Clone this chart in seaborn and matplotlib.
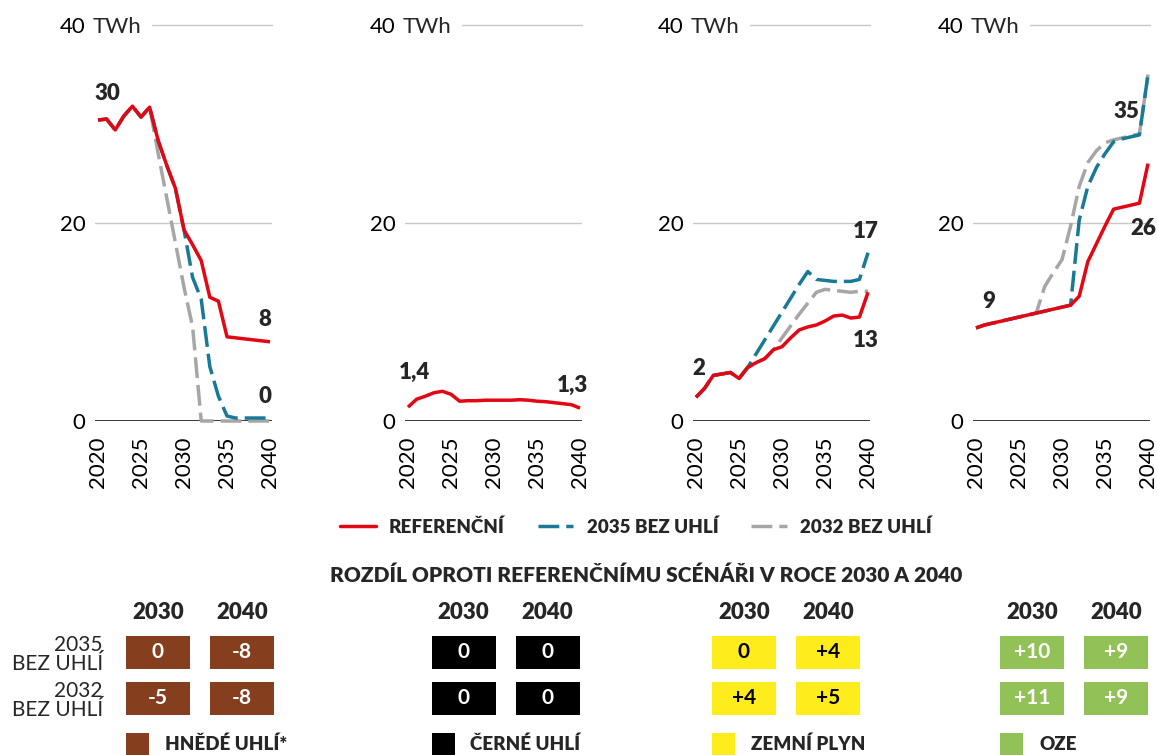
import matplotlib
matplotlib.use("Agg")
import matplotlib.pyplot as plt
from matplotlib.lines import Line2D
from matplotlib.patches import Rectangle
import seaborn as sns
import pandas as pd

# ---------------------------------------------------------------------------
# Data (TWh), yearly 2020-2040
# ---------------------------------------------------------------------------
years = list(range(2020, 2041))

# Lignite (hnědé uhlí)
lignite_ref = [30.4, 30.5, 29.4, 30.8, 31.8, 30.7, 31.7, 28.3, 25.8, 23.5, 19.3,
               17.8, 16.2, 12.5, 12.1, 8.5, 8.4, 8.3, 8.2, 8.1, 8.0]
lignite_2035 = [30.4, 30.5, 29.4, 30.8, 31.8, 30.7, 31.7, 28.3, 25.8, 23.5, 19.3,
                14.5, 12.3, 5.5, 2.5, 0.5, 0.3, 0.3, 0.3, 0.3, 0.3]
lignite_2032 = [30.4, 30.5, 29.4, 30.8, 31.8, 30.7, 31.7, 27.0, 22.5, 18.0, 13.5,
                9.5, 0.0, 0.0, 0.0, 0.0, 0.0, 0.0, 0.0, 0.0, 0.0]

# Hard coal (černé uhlí)
hard_coal_ref = [1.4, 2.2, 2.5, 2.85, 3.0, 2.7, 2.0, 2.05, 2.05, 2.1, 2.1,
                 2.1, 2.1, 2.15, 2.1, 2.0, 1.95, 1.85, 1.75, 1.65, 1.3]

# Natural gas (zemní plyn)
gas_ref = [2.4, 3.3, 4.6, 4.75, 4.9, 4.3, 5.4, 5.9, 6.3, 7.2, 7.5,
           8.4, 9.2, 9.5, 9.7, 10.1, 10.6, 10.7, 10.4, 10.5, 13.0]
gas_2035 = [2.4, 3.3, 4.6, 4.75, 4.9, 4.3, 5.4, 6.8, 8.2, 9.6, 11.0,
            12.4, 13.8, 15.1, 14.3, 14.2, 14.1, 14.1, 14.1, 14.3, 17.0]
gas_2032 = [2.4, 3.3, 4.6, 4.75, 4.9, 4.3, 5.4, 5.9, 6.3, 7.2, 8.4,
            9.6, 10.8, 11.9, 13.0, 13.3, 13.2, 13.1, 13.0, 13.1, 13.1]

# Renewables (OZE)
res_ref = [9.4, 9.7, 9.9, 10.1, 10.3, 10.5, 10.7, 10.9, 11.1, 11.3, 11.5,
           11.7, 12.6, 16.1, 17.9, 19.7, 21.4, 21.6, 21.8, 22.0, 26.0]
res_2035 = [9.4, 9.7, 9.9, 10.1, 10.3, 10.5, 10.7, 10.9, 11.1, 11.3, 11.5,
            11.7, 20.3, 23.7, 25.6, 27.0, 28.2, 28.5, 28.7, 28.9, 35.0]
res_2032 = [9.4, 9.7, 9.9, 10.1, 10.3, 10.5, 10.7, 10.9, 13.6, 15.0, 16.3,
            19.7, 23.7, 26.1, 27.3, 28.1, 28.4, 28.6, 28.8, 29.0, 35.0]

scenarios = ["REFERENČNÍ", "2035 BEZ UHLÍ", "2032 BEZ UHLÍ"]
x_ticks = [2020, 2025, 2030, 2035, 2040]
y_ticks = [0, 20, 40]

# Difference vs. reference scenario in 2030 and 2040 (rows: 2035, 2032 scenario)
table_years = ["2030", "2040"]
table_rows = ["2035\nBEZ UHLÍ", "2032\nBEZ UHLÍ"]
fuels = ["HNĚDÉ UHLÍ*", "ČERNÉ UHLÍ", "ZEMNÍ PLYN", "OZE"]
diff_lignite = [[0, -8], [-5, -8]]
diff_hard_coal = [[0, 0], [0, 0]]
diff_gas = [[0, 4], [4, 5]]
diff_res = [[10, 9], [11, 9]]

# ---------------------------------------------------------------------------
# Styling
# ---------------------------------------------------------------------------
RED = "#E30613"
BLUE = "#187A96"
GREY = "#A6A6A6"
GRID = "#C8C8C8"
palette = {scenarios[0]: RED, scenarios[1]: BLUE, scenarios[2]: GREY}
dashes = {scenarios[0]: "", scenarios[1]: (6, 2), scenarios[2]: (6, 2)}
LW = 2.5
BOLD = "heavy"

sns.set_theme(style="white")
plt.rcParams["font.family"] = ["Lato", "DejaVu Sans"]

W, H = 1157, 755
fig = plt.figure(figsize=(W / 100, H / 100), dpi=100)
fig.patch.set_facecolor("white")


def px_axes(x0, y0, x1, y1):
    """Axes placed by pixel box (left, top, right, bottom)."""
    return fig.add_axes([x0 / W, 1 - y1 / H, (x1 - x0) / W, (y1 - y0) / H])


def fmt_int(v):
    return f"{v:.0f}"


def fmt_dec(v):
    return f"{v:.1f}".replace(".", ",")


# end-point labels: (series, index, formatter, dx px, dy px, ha)
panels = [
    dict(left=95, series={scenarios[0]: lignite_ref, scenarios[1]: lignite_2035,
                          scenarios[2]: lignite_2032},
         labels=[(scenarios[0], 0, fmt_int, -4, 27, "left"),
                 (scenarios[0], -1, fmt_int, 1, 22, "right"),
                 (scenarios[1], -1, fmt_int, 1, 22, "right")]),
    dict(left=405, series={scenarios[0]: hard_coal_ref},
         labels=[(scenarios[0], 0, fmt_dec, -9, 35, "left"),
                 (scenarios[0], -1, fmt_dec, 8, 23, "right")]),
    dict(left=693, series={scenarios[0]: gas_ref, scenarios[1]: gas_2035,
                           scenarios[2]: gas_2032},
         labels=[(scenarios[0], 0, fmt_int, -4, 29, "left"),
                 (scenarios[1], -1, fmt_int, 11, 21, "right"),
                 (scenarios[0], -1, fmt_int, 11, -48, "right")]),
    dict(left=973, series={scenarios[0]: res_ref, scenarios[1]: res_2035,
                           scenarios[2]: res_2032},
         labels=[(scenarios[0], 0, fmt_int, 6, 26, "left"),
                 (scenarios[1], -1, fmt_int, -9, -37, "right"),
                 (scenarios[0], -1, fmt_int, 8, -65, "right")]),
]

twh_texts = []
axes = []
for p in panels:
    ax = px_axes(p["left"], 25, p["left"] + 177, 421)
    axes.append(ax)
    rows = []
    for name, vals in p["series"].items():
        for yr, v in zip(years, vals):
            rows.append({"year": yr, "value": v, "scenario": name})
    df = pd.DataFrame(rows)
    order = [s for s in (scenarios[2], scenarios[1], scenarios[0]) if s in p["series"]]

    ax.axhline(0, color="black", lw=1.1, zorder=1)
    ax.axhline(20, color=GRID, lw=1.0, zorder=1)

    sns.lineplot(data=df, x="year", y="value", hue="scenario", style="scenario",
                 hue_order=order, style_order=order, palette=palette,
                 dashes=dashes, linewidth=LW, legend=False, ax=ax,
                 estimator=None, sort=True)
    for ln in ax.get_lines()[2:]:
        ln.set_clip_on(False)
        ln.set_solid_capstyle("butt")
        ln.set_dash_capstyle("butt")

    ax.set_xlim(2019.65, 2040.23)
    ax.set_ylim(0, 40)
    ax.set_xticks(x_ticks)
    ax.set_xticklabels([str(t) for t in x_ticks], rotation=90)
    ax.set_yticks(y_ticks)
    ax.set_yticklabels([str(t) for t in y_ticks])
    ax.tick_params(axis="x", length=0, pad=11, labelsize=16, colors="black")
    ax.tick_params(axis="y", length=0, pad=7, labelsize=16, colors="black")
    ax.set_xlabel("")
    ax.set_ylabel("")
    ax.grid(False)
    for sp in ax.spines.values():
        sp.set_visible(False)

    twh = ax.annotate("TWh", xy=(0, 40), xycoords=("axes fraction", "data"),
                      xytext=(-2, 0), textcoords="offset pixels",
                      ha="left", va="center_baseline", fontsize=16)
    twh_texts.append(twh)

    for name, idx, fmt, dx, dy, ha in p["labels"]:
        vals = p["series"][name]
        ax.annotate(fmt(vals[idx]), xy=(years[idx], vals[idx]),
                    xytext=(dx, dy), textcoords="offset pixels",
                    ha=ha, va="center", fontsize=16, fontweight=BOLD,
                    annotation_clip=False)

# Legend of scenarios
handles = []
for s in scenarios:
    h = Line2D([], [], color=palette[s], lw=LW)
    if dashes[s]:
        h.set_dashes(dashes[s])
    handles.append(h)
fig.legend(handles, scenarios, loc="center", bbox_to_anchor=(636 / W, 1 - 527 / H),
           ncol=3, frameon=False, handlelength=1.9, handletextpad=0.7,
           columnspacing=1.75, prop={"weight": BOLD, "size": 13.5})

fig.text(646 / W, 1 - 575 / H,
         "ROZDÍL OPROTI REFERENČNÍMU SCÉNÁŘI V ROCE 2030 A 2040",
         ha="center", va="center", fontsize=15, fontweight=BOLD)

# Difference tables
groups = [
    dict(center=158, values=diff_lignite, color="#853F1F", text="white", rows=True),
    dict(center=463.5, values=diff_hard_coal, color="black", text="white", rows=False),
    dict(center=744, values=diff_gas, color="#FFEC1C", text="black", rows=False),
    dict(center=1032, values=diff_res, color="#92C257", text="white", rows=False),
]
PITCH_X, PITCH_Y = 84.0, 46.0


def fmt_diff(v):
    return "0" if v == 0 else f"{v:+d}"


for g, fuel in zip(groups, fuels):
    c = g["center"]
    tax = px_axes(c - PITCH_X / 2, 652.5 - PITCH_Y / 2, c + PITCH_X * 1.5, 698.5 + PITCH_Y / 2)
    tax.set_xlim(-0.5, 1.5)
    tax.set_ylim(1.5, -0.5)
    tax.axis("off")
    for r, row_vals in enumerate(g["values"]):
        tax.bar(range(len(row_vals)), [33 / PITCH_Y] * len(row_vals),
                bottom=r - 16.5 / PITCH_Y, width=64 / PITCH_X, color=g["color"],
                linewidth=0)
        for col, v in enumerate(row_vals):
            tax.text(col, r, fmt_diff(v), ha="center", va="center",
                     color=g["text"], fontsize=15, fontweight="bold")
    for col, yr in enumerate(table_years):
        tax.text(col, -0.88, yr, ha="center", va="center", fontsize=16,
                 fontweight=BOLD, clip_on=False)
    if g["rows"]:
        for r, lab in enumerate(table_rows):
            tax.text(-0.655, r + 0.04, lab, ha="right", va="center", fontsize=15,
                     linespacing=0.92, multialignment="right", clip_on=False)
    box_left = -32 / PITCH_X
    tax.add_patch(Rectangle((box_left, (733 - 652.5) / PITCH_Y), 23 / PITCH_X, 23 / PITCH_Y,
                            color=g["color"], clip_on=False, linewidth=0))
    tax.text(box_left + 39 / PITCH_X, (744 - 652.5) / PITCH_Y, fuel, ha="left",
             va="center", fontsize=13.5, fontweight=BOLD, clip_on=False)

# Top gridline starts right after the unit label
fig.canvas.draw()
renderer = fig.canvas.get_renderer()
for ax, twh in zip(axes, twh_texts):
    bb = twh.get_window_extent(renderer)
    abb = ax.get_window_extent(renderer)
    xmin = (bb.x1 + 10 - abb.x0) / abb.width
    ax.axhline(40, xmin=xmin, xmax=1, color=GRID, lw=1.0, zorder=1, clip_on=False)

fig.savefig("out.png", dpi=100, facecolor="white")
